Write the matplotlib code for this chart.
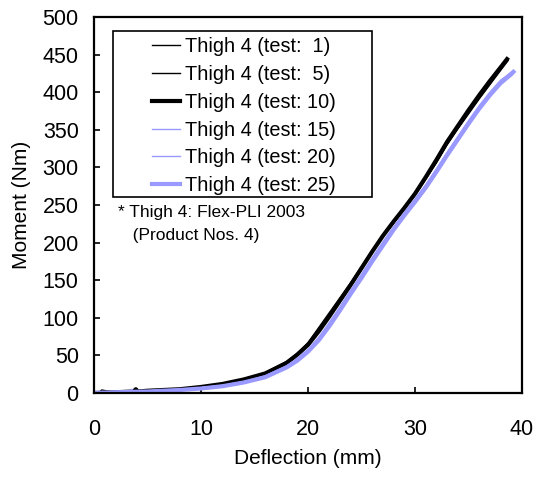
import matplotlib
matplotlib.use("Agg")
import matplotlib.pyplot as plt
from matplotlib.patches import Rectangle

plt.rcParams['font.family'] = ['Liberation Sans', 'DejaVu Sans']

# deflection (mm) / moment (Nm)
defl_1 = [0, 0.5, 0.7, 2, 5, 8, 10, 12, 14, 16, 18, 19, 20, 21, 22, 23, 24, 25, 26, 27, 28, 29, 30, 31, 32, 33, 34, 35, 36, 37, 38, 38.6]
mom_1 = [0, 0, 4, 1, 3, 5, 8, 12, 18, 27, 42, 53, 67, 87, 107, 127, 147, 168, 190, 210, 228, 246, 264, 285, 307, 331, 352, 372, 392, 411, 430, 443]
defl_5 = [0, 2, 3.8, 4.0, 4.2, 5, 8, 10, 12, 14, 16, 18, 19, 20, 21, 22, 23, 24, 25, 26, 27, 28, 29, 30, 31, 32, 33, 34, 35, 36, 37, 38, 38.7]
mom_5 = [0, 1, 2, 6, 2, 3, 5, 8, 12, 18, 27, 41, 52, 65, 84, 104, 124, 145, 166, 188, 208, 226, 245, 263, 284, 306, 330, 351, 371, 391, 410, 429, 442]
defl_10 = [0, 2, 3.7, 3.9, 4.1, 5, 8, 10, 12, 14, 16, 18, 19, 20, 21, 22, 23, 24, 25, 26, 27, 28, 29, 30, 31, 32, 33, 34, 35, 36, 37, 38, 38.6]
mom_10 = [0, 1, 2, 5, 2, 3, 5, 8, 12, 18, 26, 40, 51, 64, 82, 102, 123, 144, 166, 188, 209, 228, 246, 265, 287, 310, 334, 355, 376, 396, 415, 433, 444]
defl_15 = [0, 2, 5, 8, 10, 12, 14, 16, 18, 19, 20, 21, 22, 23, 24, 25, 26, 27, 28, 29, 30, 31, 32, 33, 34, 35, 36, 37, 38, 39, 39.1]
mom_15 = [0, 1, 2, 4, 7, 10, 15, 23, 36, 46, 58, 74, 94, 115, 137, 158, 180, 201, 221, 240, 258, 277, 298, 320, 341, 362, 382, 400, 416, 426, 428]
defl_20 = [0, 2, 3.4, 3.5, 3.7, 5, 8, 10, 12, 14, 16, 18, 19, 20, 21, 22, 23, 24, 25, 26, 27, 28, 29, 30, 31, 32, 33, 34, 35, 36, 37, 38, 39]
mom_20 = [0, 1, 2, 5, 2, 2, 4, 7, 10, 15, 22, 35, 45, 57, 72, 92, 113, 135, 156, 178, 199, 220, 239, 257, 276, 297, 319, 340, 361, 381, 399, 415, 427]
defl_25 = [0, 2, 5, 8, 10, 12, 14, 16, 18, 19, 20, 21, 22, 23, 24, 25, 26, 27, 28, 29, 30, 31, 32, 33, 34, 35, 36, 37, 38, 39, 39.2]
mom_25 = [0, 1, 2, 4, 6, 9, 14, 21, 34, 43, 55, 70, 89, 110, 132, 153, 175, 196, 217, 236, 254, 273, 294, 316, 337, 358, 378, 396, 412, 424, 427]

black = 'black'
blue = '#9999ff'

fig = plt.figure(figsize=(5.36, 4.82), dpi=100)
ax = fig.add_axes([94 / 536, 1 - 393 / 482, 428 / 536, 376 / 482])

ax.plot(defl_1, mom_1, color=black, lw=1, label='Thigh 4 (test:  1)')
ax.plot(defl_5, mom_5, color=black, lw=1, label='Thigh 4 (test:  5)')
ax.plot(defl_10, mom_10, color=black, lw=3, label='Thigh 4 (test: 10)')
ax.plot(defl_15, mom_15, color=blue, lw=1, label='Thigh 4 (test: 15)')
ax.plot(defl_20, mom_20, color=blue, lw=1, label='Thigh 4 (test: 20)')
ax.plot(defl_25, mom_25, color=blue, lw=3, label='Thigh 4 (test: 25)')

ax.set_xlim(0, 40)
ax.set_ylim(0, 500)
ax.set_xticks([0, 10, 20, 30, 40])
ax.set_yticks(range(0, 501, 50))
ax.tick_params(direction='in', length=4.5, width=1.2, labelsize=15.5, top=False, right=False)
ax.tick_params(axis='x', pad=19)
ax.tick_params(axis='y', pad=11)
for s in ax.spines.values():
    s.set_linewidth(1.6)

ax.set_xlabel('Deflection (mm)', fontsize=15, labelpad=6)
ax.set_ylabel('Moment (Nm)', fontsize=15, labelpad=8)

# legend entries without frame, frame drawn as a separate box
leg = ax.legend(loc='upper left', bbox_to_anchor=(0.1355, 0.946), fontsize=14.3,
                handlelength=1.4, handletextpad=0.25, labelspacing=0.44,
                borderpad=0, borderaxespad=0, frameon=False)
ax.add_patch(Rectangle((0.0444, 0.5213), 0.6051, 0.4415, transform=ax.transAxes,
                       fill=False, edgecolor='black', lw=1.2, zorder=5))

ax.text(2.2, 250, '* Thigh 4: Flex-PLI 2003\n   (Product Nos. 4)', fontsize=12.5, va='top', linespacing=1.7)

fig.savefig('out.png', dpi=100)
